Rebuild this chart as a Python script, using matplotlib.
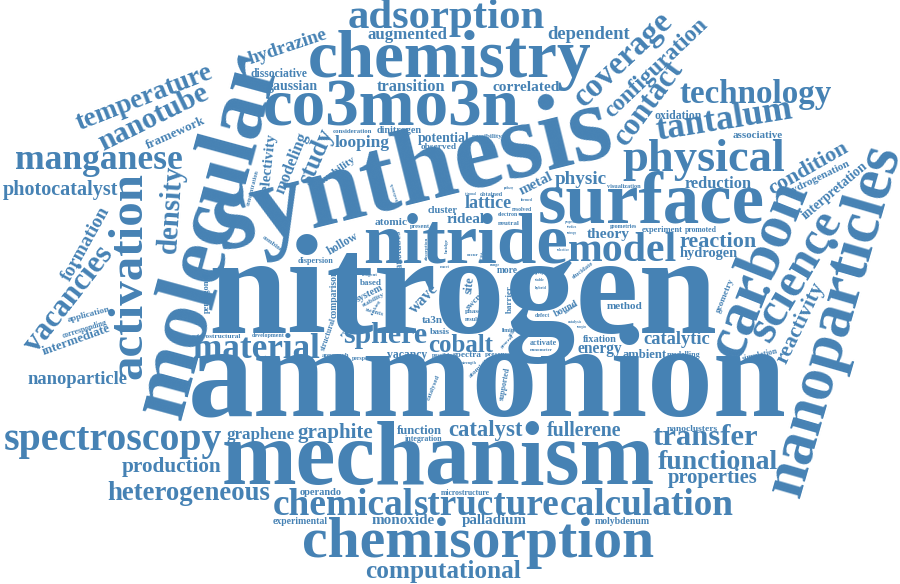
import numpy as np
import matplotlib
matplotlib.use("Agg")
import matplotlib.pyplot as plt

COLOR = "#4682b4"
FONT = "Liberation Serif"

# horizontal words: x start, x end, y of the middle of the lowercase band (pixels)
flat_words = [
    "nitrogen", "ammonion", "mechanism", "chemisorption", "computational",
    "chemical", "structure", "calculation", "chemistry", "co3mo3n",
    "adsorption", "augmented", "dependent", "dissociative", "gaussian",
    "transition", "correlated", "manganese", "photocatalyst", "consideration",
    "dinitrogen", "looping", "potential", "observed", "possibility",
    "technology", "physical", "surface", "nitride", "model",
    "oxidation", "associative", "physic", "visualization", "reduction",
    "lattice", "obtained", "cluster", "atomic", "rideal",
    "neutral", "electron", "resolved", "present", "theory",
    "experiment", "promoted", "geometries", "reaction", "hydrogen",
    "method", "defect", "fixation", "energy", "catalytic",
    "ambient", "modelling", "activate", "nanometer", "spectra",
    "presence", "cobalt", "sphere", "vacancy", "basis",
    "ta3n", "material", "microstructural", "development", "approach",
    "perspective", "possible", "limited", "more", "phase",
    "result", "based", "reagent", "dispersion", "strength",
    "nanoparticle", "spectroscopy", "graphene", "graphite", "function",
    "integration", "production", "heterogeneous", "operando", "experimental",
    "monoxide", "catalyst", "fullerene", "nanoclusters", "transfer",
    "functional", "properties", "microstructure", "palladium", "molybdenum",
    "selective", "pathway", "trigonal", "most", "range",
    "stable", "hybrid", "group", "entropy", "catalysis",
    "energies", "occur", "studies", "progress", "formed",
]
flat_layout = [
    (208, 717, 300), (188, 787, 385), (222, 655, 463), (302, 654, 544), (365, 521, 572),
    (273, 414, 506), (414, 560, 506), (560, 734, 506), (308, 592, 62), (263, 520, 110),
    (348, 545, 18), (368, 448, 35), (547, 630, 35), (250, 307, 74), (267, 318, 87),
    (377, 445, 87), (493, 560, 87), (15, 183, 161), (3, 118, 190), (332, 372, 131),
    (377, 422, 131), (335, 390, 143), (418, 470, 139), (421, 457, 147), (472, 503, 136),
    (680, 832, 95), (622, 785, 160), (538, 765, 206), (363, 568, 246), (568, 677, 251),
    (655, 702, 116), (733, 783, 135), (555, 607, 180), (607, 640, 187), (685, 752, 184),
    (465, 512, 204), (480, 503, 195), (428, 458, 211), (375, 408, 222), (447, 485, 220),
    (498, 520, 223), (498, 518, 215), (512, 532, 210), (410, 430, 227), (587, 630, 234),
    (642, 683, 230), (685, 717, 230), (610, 637, 227), (680, 757, 242), (680, 738, 254),
    (607, 643, 306), (535, 550, 316), (583, 617, 340), (577, 622, 349), (643, 710, 340),
    (623, 667, 355), (667, 700, 355), (530, 557, 343), (530, 553, 350), (453, 482, 355),
    (485, 512, 354), (428, 493, 346), (343, 427, 336), (387, 427, 355), (430, 450, 332),
    (422, 443, 320), (193, 320, 350), (192, 242, 336), (252, 285, 336), (322, 350, 355),
    (352, 380, 359), (432, 453, 356), (502, 520, 331), (497, 518, 271), (465, 482, 311),
    (465, 480, 320), (360, 382, 283), (362, 378, 275), (297, 333, 261), (462, 477, 363),
    (27, 127, 380), (3, 222, 441), (227, 295, 435), (297, 373, 433), (397, 442, 431),
    (405, 442, 439.5), (122, 222, 467), (107, 270, 494), (300, 342, 493), (273, 328, 522),
    (372, 435, 521), (448, 522, 431), (547, 622, 431), (667, 718, 429), (653, 758, 438),
    (658, 778, 463), (668, 758, 478), (440, 490, 493), (462, 527, 521), (595, 650, 522),
    (557, 570, 250), (503, 513, 188), (465, 477, 194), (440, 450, 267), (490, 500, 265),
    (535, 545, 280), (535, 547, 288), (535, 545, 273), (567, 577, 233), (568, 582, 322),
    (577, 587, 327), (467, 479, 255), (567, 577, 227), (565, 576, 222), (520, 532, 200),
]

# rotated words: start and end of the middle of the lowercase band (pixels)
tilted_words = [
    "synthesis", "molecular", "activation", "density", "formation",
    "vacancies", "application", "corresponding", "intermediate", "temperature",
    "nanotube", "framework", "hydrazine", "study", "modeling",
    "selectivity", "mobility", "concentration", "coverage", "configuration",
    "contact", "tantalum", "metal", "bound", "wave",
    "system", "stability", "swcnts", "comparison", "structural",
    "hollow", "nanotubes", "combined", "pentagonal", "site",
    "barrier", "swcnt", "catalysed", "supported", "atomistic",
    "general", "activity", "elucidate", "geometry", "simulation",
    "carbon", "science", "reactivity", "nanoparticles", "interpretation",
    "hydrogenation", "condition", "bridge", "absorption", "available",
    "feedstock", "active", "stacking", "prepared",
]
tilted_layout = [
    (214, 227, 611, 129), (160, 415, 258, 55), (130, 379, 130, 172), (169, 253, 175, 165), (66, 280, 106, 208),
    (30, 350, 108, 250), (68, 320, 110, 309), (62, 336, 107, 322), (43, 352, 110, 328), (77, 125, 212, 72),
    (100, 145, 207, 92), (147, 146, 205, 120), (249, 60, 327, 34), (305, 184, 328, 130), (280, 193, 304, 133),
    (265, 197, 272, 133), (322, 181, 355, 158), (248, 205, 257, 170), (579, 102, 669, 17), (608, 115, 705, 22),
    (620, 143, 678, 64), (656, 132, 792, 110), (520, 192, 552, 176), (555, 315, 578, 303), (412, 312, 436, 287),
    (357, 300, 383, 287), (362, 306, 384, 294), (365, 310, 383, 315), (334, 318, 334, 270), (323, 350, 334, 318),
    (328, 253, 357, 236), (400, 273, 398, 230), (263, 237, 285, 253), (207, 313, 207, 273), (469, 294, 471, 277),
    (510, 313, 510, 285), (467, 308, 483, 292), (428, 400, 438, 375), (502, 400, 508, 367), (470, 377, 490, 358),
    (501, 347, 513, 335), (510, 337, 520, 322), (573, 278, 593, 263), (718, 312, 732, 278), (743, 359, 778, 351),
    (725, 355, 794, 182), (760, 338, 833, 214), (782, 362, 820, 283), (785, 495, 886, 146), (803, 218, 866, 165),
    (788, 193, 850, 163), (770, 191, 847, 147), (447, 253, 447, 238), (427, 260, 427, 237), (565, 313, 578, 303),
    (398, 200, 392, 182), (480, 262, 486, 245), (372, 315, 380, 300), (342, 336, 350, 325),
]

fig = plt.figure(figsize=(9, 5.84), dpi=100)
ax = fig.add_axes([0, 0, 1, 1])
ax.set_xlim(0, 900)
ax.set_ylim(584, 0)
ax.axis("off")
renderer = fig.canvas.get_renderer()


def place(word, xa, ya, xb, yb):
    dx, dy = xb - xa, yb - ya
    length = np.hypot(dx, dy)
    probe = ax.text(0, 0, word, fontsize=100, family=FONT, weight="bold")
    w = probe.get_window_extent(renderer).width
    probe.remove()
    size = 100 * length / w
    em = size * fig.dpi / 72
    ux, uy = dy / length, -dx / length      # "up" direction in pixel coords
    half = 0.23 * em
    xm, ym = (xa + xb) / 2 - ux * half, (ya + yb) / 2 - uy * half
    angle = np.degrees(np.arctan2(-dy, dx))
    ax.text(xm, ym, word, fontsize=size, family=FONT, weight="bold",
            color=COLOR, ha="center", va="baseline",
            rotation=angle, rotation_mode="anchor")


for word, (xa, xb, ym) in zip(flat_words, flat_layout):
    place(word, xa, ym, xb, ym)

for word, (xa, ya, xb, yb) in zip(tilted_words, tilted_layout):
    place(word, xa, ya, xb, yb)

fig.savefig("out.png", dpi=100, facecolor="white")
